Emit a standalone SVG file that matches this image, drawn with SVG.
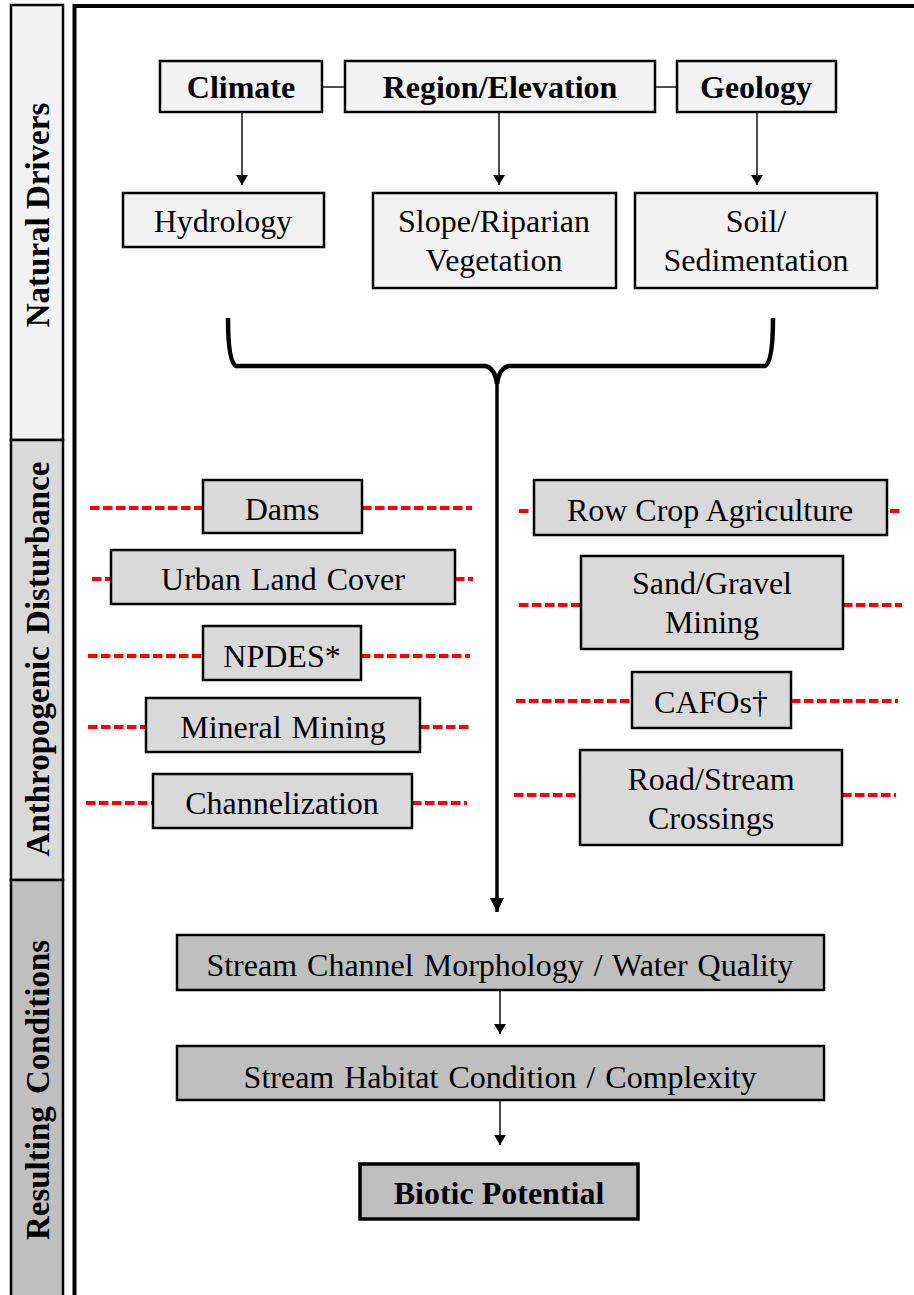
<svg xmlns="http://www.w3.org/2000/svg" width="914" height="1295" viewBox="0 0 914 1295">
<style>
text{font-family:"Liberation Serif","Times New Roman",serif;font-size:32px;fill:#000;text-anchor:middle}
.b{font-weight:bold}
.box{stroke:#000;stroke-width:2.5}
.nat{fill:#f2f2f2}
.ant{fill:#d9d9d9}
.res{fill:#bfbfbf}
.ln{stroke:#000;stroke-width:1.4;fill:none}
.red{stroke:#ff0000;stroke-width:4;stroke-dasharray:9.5 3.5;fill:none}
.side{font-size:33px;font-weight:bold}
</style>
<defs>
<marker id="ah" viewBox="0 0 10 12" refX="10" refY="6" markerWidth="10" markerHeight="12" markerUnits="userSpaceOnUse" orient="auto"><path d="M0,0 L10,6 L0,12 Z" fill="#000"/></marker>
<marker id="ahb" viewBox="0 0 14 14" refX="14" refY="7" markerWidth="14" markerHeight="14" markerUnits="userSpaceOnUse" orient="auto"><path d="M0,0 L14,7 L0,14 Z" fill="#000"/></marker>
</defs>
<rect width="914" height="1295" fill="#fff"/>
<g id="sidebar">
<rect x="11" y="5" width="52" height="435" class="box nat"/>
<rect x="11" y="440" width="52" height="440" class="box ant"/>
<rect x="11" y="880" width="52" height="420" class="box res"/>
<text class="side" transform="translate(49,215) rotate(-90)">Natural Drivers</text>
<text class="side" transform="translate(49,659) rotate(-90)" style="word-spacing:4px">Anthropogenic Disturbance</text>
<text class="side" transform="translate(49,1090) rotate(-90)" style="word-spacing:4px">Resulting Conditions</text>
</g>
<path d="M74.5,1300 L74.5,6 L920,6" fill="none" stroke="#000" stroke-width="4"/>
<g id="connectors">
<line x1="322" y1="87" x2="345" y2="87" class="ln"/>
<line x1="655" y1="87" x2="677" y2="87" class="ln"/>
<line x1="242" y1="112" x2="242" y2="185" class="ln" marker-end="url(#ah)"/>
<line x1="499" y1="112" x2="499" y2="185" class="ln" marker-end="url(#ah)"/>
<line x1="757" y1="112" x2="757" y2="185" class="ln" marker-end="url(#ah)"/>
<path d="M228,318 Q228,362 236,366 L485,366 Q495,368 497,384 Q499,368 509,366 L765,366 Q773,362 773,318" fill="none" stroke="#000" stroke-width="4.5"/>
<line x1="497" y1="380" x2="497" y2="912" stroke="#000" stroke-width="3.5" marker-end="url(#ahb)"/>
<line x1="500" y1="990" x2="500" y2="1034" class="ln" marker-end="url(#ah)"/>
<line x1="500" y1="1100" x2="500" y2="1145" class="ln" marker-end="url(#ah)"/>
<line x1="90" y1="508" x2="203" y2="508" class="red"/>
<line x1="362" y1="508" x2="472" y2="508" class="red"/>
<line x1="92" y1="579" x2="111" y2="579" class="red"/>
<line x1="455" y1="579" x2="473" y2="579" class="red"/>
<line x1="88" y1="656" x2="203" y2="656" class="red"/>
<line x1="361" y1="656" x2="470" y2="656" class="red"/>
<line x1="88" y1="727" x2="146" y2="727" class="red"/>
<line x1="420" y1="727" x2="470" y2="727" class="red"/>
<line x1="86" y1="803" x2="153" y2="803" class="red"/>
<line x1="412" y1="803" x2="467" y2="803" class="red"/>
<line x1="519" y1="511" x2="531" y2="511" class="red"/>
<line x1="890" y1="511" x2="902" y2="511" class="red"/>
<line x1="519" y1="605" x2="581" y2="605" class="red"/>
<line x1="843" y1="605" x2="902" y2="605" class="red"/>
<line x1="516" y1="701" x2="632" y2="701" class="red"/>
<line x1="791" y1="701" x2="898" y2="701" class="red"/>
<line x1="514" y1="795" x2="580" y2="795" class="red"/>
<line x1="842" y1="795" x2="896" y2="795" class="red"/>
</g>
<g id="climate"><rect x="160" y="61" width="162" height="51" class="box nat"/><text x="241" y="98" class="b">Climate</text></g>
<g id="region"><rect x="345" y="61" width="310" height="51" class="box nat"/><text x="500" y="98" class="b">Region/Elevation</text></g>
<g id="geology"><rect x="677" y="61" width="159" height="51" class="box nat"/><text x="756" y="98" class="b">Geology</text></g>
<g id="hydrology"><rect x="123" y="193" width="201" height="54" class="box nat"/><text x="223" y="232">Hydrology</text></g>
<g id="slope"><rect x="373" y="193" width="243" height="95" class="box nat"/><text x="494" y="232">Slope/Riparian</text><text x="494" y="271">Vegetation</text></g>
<g id="soil"><rect x="635" y="193" width="242" height="95" class="box nat"/><text x="756" y="232">Soil/</text><text x="756" y="271">Sedimentation</text></g>
<g id="dams"><rect x="203" y="480" width="159" height="53" class="box ant"/><text x="282" y="520">Dams</text></g>
<g id="urban"><rect x="111" y="550" width="344" height="54" class="box ant"/><text x="283" y="590" style="word-spacing:2px">Urban Land Cover</text></g>
<g id="npdes"><rect x="203" y="626" width="158" height="54" class="box ant"/><text x="282" y="667">NPDES*</text></g>
<g id="mineral"><rect x="146" y="698" width="274" height="54" class="box ant"/><text x="283" y="738" style="word-spacing:2px">Mineral Mining</text></g>
<g id="channelization"><rect x="153" y="774" width="259" height="54" class="box ant"/><text x="282" y="814">Channelization</text></g>
<g id="rowcrop"><rect x="534" y="480" width="353" height="55" class="box ant"/><text x="710" y="521">Row Crop Agriculture</text></g>
<g id="sand"><rect x="581" y="556" width="262" height="93" class="box ant"/><text x="712" y="594">Sand/Gravel</text><text x="712" y="633">Mining</text></g>
<g id="cafos"><rect x="632" y="672" width="159" height="56" class="box ant"/><text x="711" y="713">CAFOs†</text></g>
<g id="road"><rect x="580" y="750" width="262" height="95" class="box ant"/><text x="711" y="790">Road/Stream</text><text x="711" y="829">Crossings</text></g>
<g id="morphology"><rect x="177" y="935" width="647" height="55" class="box res"/><text x="500" y="976" style="word-spacing:2px">Stream Channel Morphology / Water Quality</text></g>
<g id="habitat"><rect x="177" y="1046" width="647" height="54" class="box res"/><text x="500" y="1088" style="word-spacing:2px">Stream Habitat Condition / Complexity</text></g>
<g id="biotic"><rect x="360" y="1164" width="278" height="55" class="res" stroke="#000" stroke-width="3.5"/><text x="499" y="1204" class="b">Biotic Potential</text></g>
</svg>
